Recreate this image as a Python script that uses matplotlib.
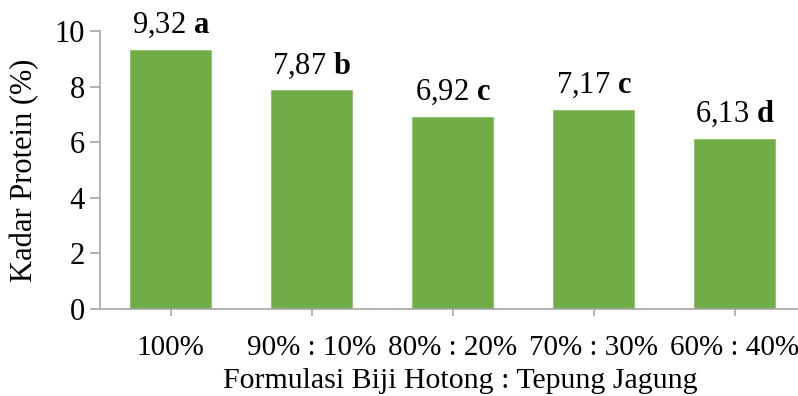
import matplotlib.pyplot as plt

plt.rcParams['font.family'] = ['Liberation Serif', 'DejaVu Serif']
plt.rcParams['mathtext.fontset'] = 'custom'
plt.rcParams['mathtext.rm'] = 'Liberation Serif'
plt.rcParams['mathtext.bf'] = 'Liberation Serif:bold'

categories = ['100%', '90% : 10%', '80% : 20%', '70% : 30%', '60% : 40%']
values = [9.32, 7.87, 6.92, 7.17, 6.13]
value_labels = ['9,32', '7,87', '6,92', '7,17', '6,13']
letters = ['a', 'b', 'c', 'c', 'd']

fig = plt.figure(figsize=(7.98, 3.96), dpi=100)
# axes run past the right edge like in the original
ax = fig.add_axes([100 / 798, 1 - 309 / 396, 705 / 798, 278 / 396])

x = list(range(len(categories)))
bars = ax.bar(x, values, width=0.575, color='#70AD47', edgecolor='#8CC06A', linewidth=0.6)

for xi, v, lab, let in zip(x, values, value_labels, letters):
    ax.annotate(lab + ' $\\mathbf{' + let + '}$', (xi, v), xytext=(0, 12),
                textcoords='offset points', ha='center', va='baseline', fontsize=22)

ax.set_xlim(-0.5, 4.5)
ax.set_ylim(0, 10)
ax.set_yticks([0, 2, 4, 6, 8, 10])
ax.set_xticks(x)
ax.set_xticklabels(categories)

for s in ['top', 'right']:
    ax.spines[s].set_visible(False)
for s in ['left', 'bottom']:
    ax.spines[s].set_color('#A6A6A6')
    ax.spines[s].set_linewidth(1.2)

ax.tick_params(axis='y', length=7, color='#A6A6A6', width=1.2, labelsize=22, pad=4)
ax.tick_params(axis='x', length=5, color='#A6A6A6', width=1.2, labelsize=21, pad=14)

fig.text(25 / 798, 1 - 170 / 396, 'Kadar Protein (%)', rotation=90,
         ha='center', va='center', fontsize=22)
fig.text(460 / 798, 1 - 381 / 396, 'Formulasi Biji Hotong : Tepung Jagung',
         ha='center', va='center', fontsize=21.5)

fig.savefig('out.png', dpi=100)
